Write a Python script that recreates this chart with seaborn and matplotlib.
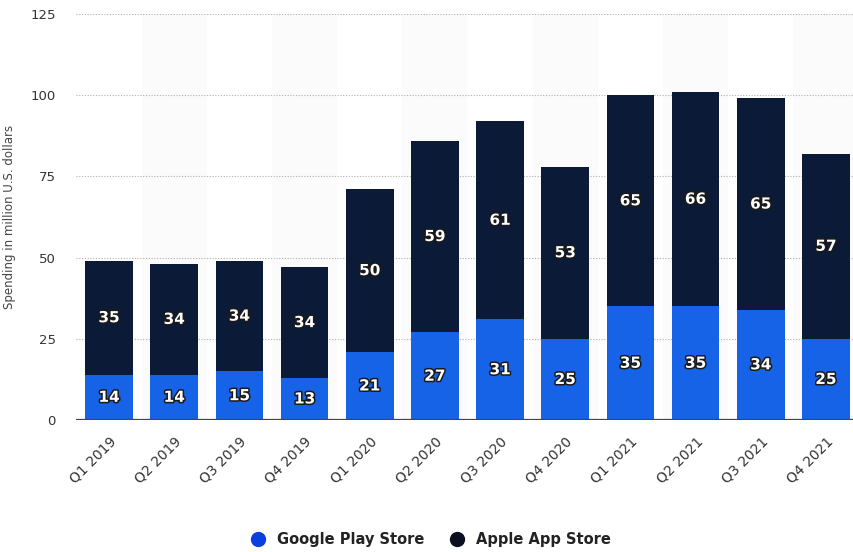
import matplotlib
matplotlib.use("Agg")
import matplotlib.pyplot as plt
import matplotlib.patheffects as pe
from matplotlib.lines import Line2D
import seaborn as sns
import pandas as pd

quarters = ["Q1 2019", "Q2 2019", "Q3 2019", "Q4 2019", "Q1 2020", "Q2 2020",
            "Q3 2020", "Q4 2020", "Q1 2021", "Q2 2021", "Q3 2021", "Q4 2021"]
google = [14, 14, 15, 13, 21, 27, 31, 25, 35, 35, 34, 25]
apple = [35, 34, 34, 34, 50, 59, 61, 53, 65, 66, 65, 57]
yticks = [0, 25, 50, 75, 100, 125]

BLUE = "#1763e8"
NAVY = "#0b1a36"

sns.set_theme(style="white")
plt.rcParams['font.family'] = ['DejaVu Sans']

df = pd.DataFrame({"quarter": quarters, "google": google, "apple": apple})
df["total"] = df["google"] + df["apple"]

fig = plt.figure(figsize=(8.54, 5.52), dpi=100)
ax = fig.add_axes([0.0895, 0.239, 0.9105, 0.7356])

# faint alternating bands
for i in range(1, len(quarters), 2):
    ax.axvspan(i - 0.5, i + 0.5, color="#fbfbfc", zorder=0, lw=0)

for y in yticks[1:]:
    ax.axhline(y, color="#b0b0b0", lw=0.8, ls=(0, (1, 1.5)), zorder=0.5)

sns.barplot(data=df, x="quarter", y="total", color=NAVY, saturation=1,
            width=0.73, ax=ax, zorder=2)
sns.barplot(data=df, x="quarter", y="google", color=BLUE, saturation=1,
            width=0.73, ax=ax, zorder=3)
for p in ax.patches:
    p.set_edgecolor("none")

ax.axhline(0, color="#444444", lw=1.6, zorder=4)

effects = [pe.withStroke(linewidth=2.2, foreground="#1a1a1a")]
for i, (g, a) in enumerate(zip(google, apple)):
    ax.text(i, g / 2, str(g), ha="center", va="center", color="white",
            fontsize=11, fontweight="bold", path_effects=effects, zorder=5)
    ax.text(i, g + a / 2, str(a), ha="center", va="center", color="white",
            fontsize=11, fontweight="bold", path_effects=effects, zorder=5)

ax.set_xlim(-0.5, 11.43)
ax.set_ylim(0, 125)
ax.set_yticks(yticks)
ax.set_yticklabels([str(v) for v in yticks], fontsize=9.5, color="#333333")
ax.set_xticks(range(len(quarters)))
ax.set_xticklabels(quarters, rotation=45, ha="right", rotation_mode="anchor",
                   fontsize=10, color="#333333")
ax.tick_params(axis="x", length=0, pad=10)
ax.tick_params(axis="y", length=0, pad=15)
ax.set_xlabel("")
ax.set_ylabel("Spending in million U.S. dollars", fontsize=8.5, color="#444444",
              labelpad=10)
for s in ax.spines.values():
    s.set_visible(False)

handles = [Line2D([], [], marker="o", ls="", markersize=10, color="#0b3ee0"),
           Line2D([], [], marker="o", ls="", markersize=10, color="#0a1020")]
fig.legend(handles, ["Google Play Store", "Apple App Store"], loc="center",
           bbox_to_anchor=(0.5, 0.022), ncol=2, frameon=False,
           prop={"size": 10.5, "weight": "bold"}, labelcolor="#222222",
           handletextpad=0.3, columnspacing=1.2)

fig.savefig("out.png", dpi=100)
